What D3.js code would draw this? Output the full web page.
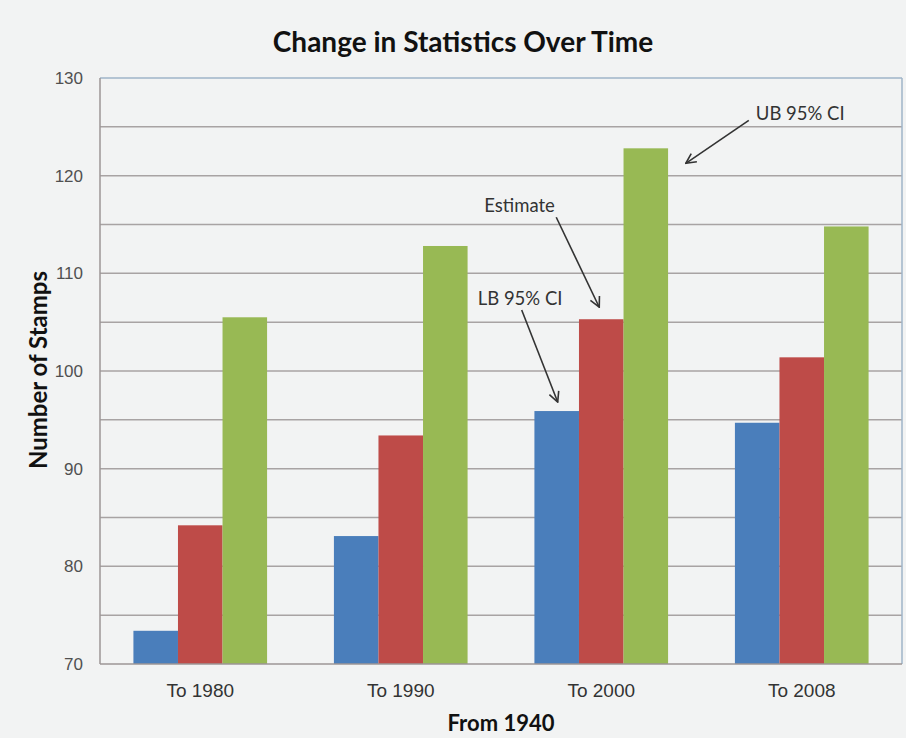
<!DOCTYPE html>
<html>
<head>
<meta charset="utf-8">
<script src="https://cdn.jsdelivr.net/npm/d3@7"></script>
<style>
    body { margin: 0; background: #f2f3f3; }
    svg { display: block; font-family: Lato, "Open Sans", sans-serif; }
    .grid line { stroke: #a8a3a3; stroke-width: 1.5; }
    .y.axis text { fill: #505050; font-size: 17px; }
    .x.axis text { fill: #333; font-size: 19px; }
    .axis path, .axis line { display: none; }
    .note text { fill: #333; font-size: 18.5px; }
    .note line { stroke: #333; stroke-width: 1.6; }
</style>
</head>
<body>
<svg id="chart" width="906" height="738"></svg>
<script>
// data
const categories = ["To 1980", "To 1990", "To 2000", "To 2008"];
const series = ["LB 95% CI", "Estimate", "UB 95% CI"];
const lbValues = [73.4, 83.1, 95.9, 94.7];
const estValues = [84.2, 93.4, 105.3, 101.4];
const ubValues = [105.5, 112.8, 122.8, 114.8];
const yTicks = [70, 80, 90, 100, 110, 120, 130];
const gridTicks = [75, 80, 85, 90, 95, 100, 105, 110, 115, 120, 125];
const colors = ["#4a7ebb", "#be4b48", "#98b954"];

// annotations point at the "To 2000" bars
const notes = [
    {text: "LB 95% CI", category: "To 2000", serie: "LB 95% CI"},
    {text: "Estimate", category: "To 2000", serie: "Estimate"},
    {text: "UB 95% CI", category: "To 2000", serie: "UB 95% CI"}
];

const values = [lbValues, estValues, ubValues];
const margin = {top: 78, right: 4, bottom: 74, left: 100};
const width = 906 - margin.left - margin.right;
const height = 738 - margin.top - margin.bottom;

const svg = d3.select("#chart");
const chart = svg.append("g").attr("transform", "translate(" + margin.left + "," + margin.top + ")");

const x0 = d3.scaleBand().domain(categories).range([0, width]).paddingInner(1 / 3).paddingOuter(1 / 6);
const x1 = d3.scaleBand().domain(series).range([0, x0.bandwidth()]);
const y = d3.scaleLinear().domain([70, 130]).range([height, 0]);

// gridlines
chart.append("g").attr("class", "grid")
    .selectAll("line").data(gridTicks).enter()
    .append("line")
        .attr("x1", 0).attr("x2", width)
        .attr("y1", d => y(d)).attr("y2", d => y(d));

// bars
const groups = chart.selectAll(".group").data(categories).enter()
    .append("g").attr("class", "group")
    .attr("transform", d => "translate(" + x0(d) + ",0)");
groups.selectAll("rect")
    .data((c, i) => series.map((s, j) => ({serie: s, value: values[j][i], color: colors[j]})))
    .enter().append("rect")
        .attr("x", d => x1(d.serie))
        .attr("width", x1.bandwidth())
        .attr("y", d => y(d.value))
        .attr("height", d => y(70) - y(d.value))
        .attr("fill", d => d.color);

// frame: top/right light blue, left/bottom gray axis lines
chart.append("line").attr("x1", 0).attr("x2", width).attr("y1", 0).attr("y2", 0)
    .attr("stroke", "#9fb4c8").attr("stroke-width", 1.5);
chart.append("line").attr("x1", width).attr("x2", width).attr("y1", 0).attr("y2", height)
    .attr("stroke", "#9fb4c8").attr("stroke-width", 1.5);
chart.append("line").attr("x1", 0).attr("x2", 0).attr("y1", 0).attr("y2", height)
    .attr("stroke", "#9c9696").attr("stroke-width", 1.5);
chart.append("line").attr("x1", 0).attr("x2", width).attr("y1", height).attr("y2", height)
    .attr("stroke", "#9c9696").attr("stroke-width", 1.5);

// axes
chart.append("g").attr("class", "y axis")
    .call(d3.axisLeft(y).tickValues(yTicks).tickSize(0).tickPadding(17));
chart.append("g").attr("class", "x axis")
    .attr("transform", "translate(0," + height + ")")
    .call(d3.axisBottom(x0).tickSize(0).tickPadding(20));

// titles
svg.append("text").attr("x", 463).attr("y", 52)
    .attr("text-anchor", "middle").attr("font-size", 28).attr("font-weight", "bold").attr("fill", "#111")
    .text("Change in Statistics Over Time");
svg.append("text").attr("x", margin.left + width / 2).attr("y", 731)
    .attr("text-anchor", "middle").attr("font-size", 22).attr("font-weight", "bold").attr("fill", "#111")
    .text("From 1940");
svg.append("text").attr("transform", "translate(47,370) rotate(-90)")
    .attr("text-anchor", "middle").attr("font-size", 24).attr("font-weight", "bold").attr("fill", "#111")
    .text("Number of Stamps");

// annotation arrows
svg.append("defs").append("marker")
    .attr("id", "arrow").attr("viewBox", "0 0 12 12").attr("refX", 11).attr("refY", 6)
    .attr("markerWidth", 12).attr("markerHeight", 12).attr("markerUnits", "userSpaceOnUse")
    .attr("orient", "auto")
    .append("path").attr("d", "M1,1 L11,6 L1,11").attr("fill", "none").attr("stroke", "#333").attr("stroke-width", 1.6);

// label offsets in px relative to the bar top centre
const noteLayout = {
    "LB 95% CI": {tip: [1, -9], from: [-35, -101], label: [-79, -113]},
    "Estimate": {tip: [-2, -12], from: [-45, -102], label: [-117, -114]},
    "UB 95% CI": {tip: [40, 15], from: [103, -28], label: [110, -35]}
};
const noteG = chart.selectAll(".note").data(notes).enter().append("g").attr("class", "note");
noteG.each(function(d) {
    const i = categories.indexOf(d.category);
    const j = series.indexOf(d.serie);
    const cx = x0(d.category) + x1(d.serie) + x1.bandwidth() / 2;
    const cy = y(values[j][i]);
    const l = noteLayout[d.serie];
    const g = d3.select(this);
    g.append("line")
        .attr("x1", cx + l.from[0]).attr("y1", cy + l.from[1])
        .attr("x2", cx + l.tip[0]).attr("y2", cy + l.tip[1])
        .attr("marker-end", "url(#arrow)");
    g.append("text")
        .attr("x", cx + l.label[0]).attr("y", cy + l.label[1])
        .attr("dy", "0.35em")
        .text(d.text);
});
</script>
</body>
</html>
